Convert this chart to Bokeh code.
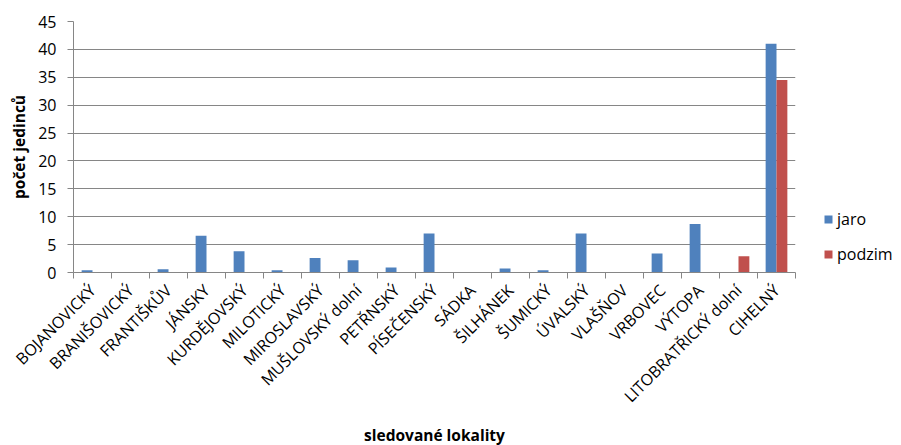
import math
from bokeh.plotting import figure
from bokeh.models import (Range1d, FixedTicker, SingleIntervalTicker, ColumnDataSource,
                          Legend, LegendItem)
from bokeh.embed import file_html
from bokeh.resources import INLINE

categories = ["BOJANOVICKÝ", "BRANIŠOVICKÝ", "FRANTIŠKŮV", "JÁNSKY", "KURDĚJOVSKÝ",
              "MILOTICKÝ", "MIROSLAVSKÝ", "MUŠLOVSKÝ dolní", "PETŘNSKÝ", "PÍSEČENSKÝ",
              "SÁDKA", "ŠILHÁNEK", "ŠUMICKÝ", "ÚVALSKÝ", "VLAŠŇOV", "VRBOVEC", "VÝTOPA",
              "LITOBRATŘICKÝ dolní", "CIHELNÝ"]
jaro = [0.4, 0, 0.6, 6.6, 3.8, 0.4, 2.6, 2.2, 0.9, 7.0, 0, 0.7, 0.4, 7.0, 0, 3.4, 8.7, 0, 41.0]
podzim = [0, 0, 0, 0, 0, 0, 0, 0, 0, 0, 0, 0, 0, 0, 0, 0, 0, 2.9, 34.5]
series_names = ["jaro", "podzim"]
series_colors = ["#4F81BD", "#C0504D"]

FONT = "Open Sans"
GRID = "#868686"
TICK_FS = "16px"
TITLE_FS = "15.5px"

n = len(categories)
idx = list(range(n))
bar_w = 1 / 3.5          # Excel gap width 150 %
src = ColumnDataSource(dict(
    x_j=[i - bar_w / 2 for i in idx],
    x_p=[i + bar_w / 2 for i in idx],
    jaro=jaro, podzim=podzim))

p = figure(frame_width=722, frame_height=251,
           x_range=Range1d(-0.5, n - 0.5), y_range=Range1d(0, 45),
           output_backend="svg", toolbar_location=None,
           min_border_left=73, min_border_right=90, min_border_top=21, min_border_bottom=170)
p.outline_line_color = None
p.background_fill_color = "white"

r1 = p.vbar(x="x_j", top="jaro", width=bar_w, source=src, color=series_colors[0], line_color=None)
r2 = p.vbar(x="x_p", top="podzim", width=bar_w, source=src, color=series_colors[1], line_color=None)

# x axis
xa = p.xaxis[0]
xa.ticker = FixedTicker(ticks=idx, minor_ticks=[i - 0.5 for i in range(n + 1)])
xa.major_label_overrides = {i: c for i, c in zip(idx, categories)}
xa.major_label_orientation = math.pi / 4
xa.major_tick_line_color = None
xa.major_tick_in = 0
xa.major_tick_out = 6
xa.minor_tick_in = 0
xa.minor_tick_out = 6
xa.minor_tick_line_color = GRID
xa.axis_line_color = GRID
xa.major_label_text_font = FONT
xa.major_label_text_font_size = TICK_FS
xa.major_label_text_color = "black"
xa.major_label_standoff = 9
xa.axis_label = "sledované lokality"
xa.axis_label_text_font = FONT
xa.axis_label_text_font_size = TITLE_FS
xa.axis_label_text_font_style = "bold"
xa.axis_label_text_color = "black"
xa.axis_label_standoff = 6

# y axis
ya = p.yaxis[0]
ya.ticker = SingleIntervalTicker(interval=5, num_minor_ticks=0)
ya.major_tick_in = 0
ya.major_tick_out = 6
ya.major_tick_line_color = GRID
ya.minor_tick_line_color = None
ya.axis_line_color = GRID
ya.major_label_text_font = FONT
ya.major_label_text_font_size = TICK_FS
ya.major_label_text_color = "black"
ya.major_label_standoff = 11
ya.axis_label = "počet jedinců"
ya.axis_label_text_font = FONT
ya.axis_label_text_font_size = TITLE_FS
ya.axis_label_text_font_style = "bold"
ya.axis_label_text_color = "black"
ya.axis_label_standoff = 5

p.xgrid.grid_line_color = None
p.ygrid.grid_line_color = GRID
p.ygrid.ticker = SingleIntervalTicker(interval=5, num_minor_ticks=0)

legend = Legend(items=[LegendItem(label=series_names[0], renderers=[r1]),
                       LegendItem(label=series_names[1], renderers=[r2])],
                location=(28, 7), orientation="vertical",
                glyph_width=10, glyph_height=10, label_height=23, label_standoff=4,
                spacing=12, padding=0, margin=0,
                border_line_color=None, background_fill_alpha=0,
                label_text_font=FONT, label_text_font_size=TICK_FS, label_text_color="black")
p.add_layout(legend, "right")

open("out.html", "w").write(file_html(p, INLINE))
